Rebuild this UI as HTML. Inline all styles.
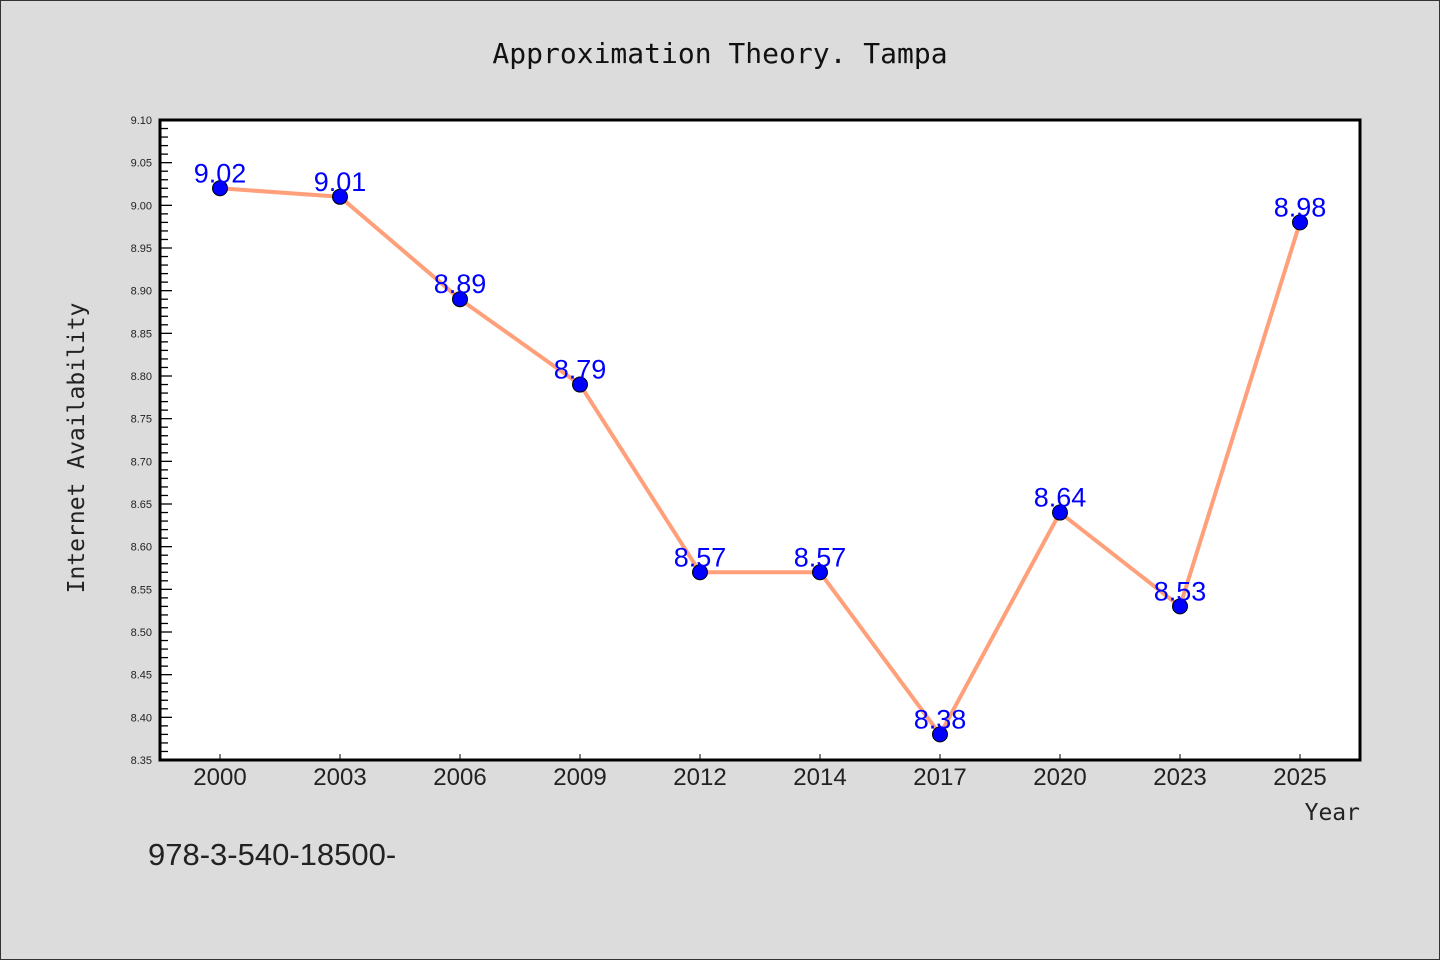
<!DOCTYPE html>
<html><head><meta charset="utf-8"><style>
html,body{margin:0;padding:0;background:#dcdcdc;}
svg{display:block;}
</style></head><body>
<svg id="chart" width="1440" height="960" xmlns="http://www.w3.org/2000/svg">
<rect x="0.5" y="0.5" width="1439" height="959" fill="#dcdcdc" stroke="#333" stroke-width="1"/>
<text x="720" y="63" text-anchor="middle" font-family="'DejaVu Sans Mono','Liberation Mono',monospace" font-size="28" fill="#111">Approximation Theory. Tampa</text>
<rect x="160" y="120" width="1200" height="640" fill="#fff"/>
<g id="yticks"></g><g id="xticks"></g>
<rect x="160" y="120" width="1200" height="640" fill="none" stroke="#000" stroke-width="3"/>
<g id="series"></g>
<text transform="translate(84,448) rotate(-90)" text-anchor="middle" font-family="'DejaVu Sans Mono','Liberation Mono',monospace" font-size="23" fill="#222">Internet Availability</text>
<text x="1360" y="820" text-anchor="end" font-family="'DejaVu Sans Mono','Liberation Mono',monospace" font-size="23" fill="#222">Year</text>
<text x="148" y="865" font-family="'Liberation Sans',sans-serif" font-size="31" fill="#222">978-3-540-18500-</text>
</svg>
<script>
const categories = ["2000","2003","2006","2009","2012","2014","2017","2020","2023","2025"];
const values = [9.02,9.01,8.89,8.79,8.57,8.57,8.38,8.64,8.53,8.98];
const yTickLabels = ["8.35","8.40","8.45","8.50","8.55","8.60","8.65","8.70","8.75","8.80","8.85","8.90","8.95","9.00","9.05","9.10"];
const yMin = 8.35, yMax = 9.10;
const NS = "http://www.w3.org/2000/svg";
const L=160,R=1360,T=120,B=760;
const band=(R-L)/categories.length;
function xScale(i){return L+band*(i+0.5);}
function yScale(v){return B-(v-yMin)/(yMax-yMin)*(B-T);}
function mk(tag,attrs,parent){const e=document.createElementNS(NS,tag);for(const k in attrs)e.setAttribute(k,attrs[k]);parent.appendChild(e);return e;}
const yt=document.getElementById('yticks');
for(let v=0;v<=75;v++){
  const val=yMin+v*0.01;const y=yScale(val);const major=v%5===0;
  const t=mk('line',{x1:L,x2:L+(major?12:8),y1:y,y2:y,stroke:'#000','stroke-width':1.3},yt);
  
  
}
yTickLabels.forEach(s=>{
  const tx=mk('text',{x:L-8,y:yScale(parseFloat(s))+4,'text-anchor':'end','font-family':"'Liberation Sans',sans-serif",'font-size':11,fill:'#222'},yt);
  tx.textContent=s;
  
  
});
const xt=document.getElementById('xticks');
categories.forEach((c,i)=>{
  const x=xScale(i);
  const t=mk('line',{x1:x,x2:x,y1:B,y2:B-6,stroke:'#000','stroke-width':1},xt);
  
  
  const tx=mk('text',{x:x,y:B+25,'text-anchor':'middle','font-family':"'Liberation Sans',sans-serif",'font-size':24,fill:'#222'},xt);
  tx.textContent=c;
  
  
});
const sg=document.getElementById('series');
const pl=mk('polyline',{points:values.map((v,i)=>xScale(i)+','+yScale(v)).join(' '),fill:'none',stroke:'#ffa07a','stroke-width':4,'stroke-linejoin':'round'},sg);


values.forEach((v,i)=>{
  const c=mk('circle',{cx:xScale(i),cy:yScale(v),r:7.5,fill:'#0000ff',stroke:'#000','stroke-width':1},sg);
  
  
  const tx=mk('text',{x:xScale(i),y:yScale(v)-6,'text-anchor':'middle','font-family':"'Liberation Sans',sans-serif",'font-size':27,fill:'#0000ff'},sg);
  tx.textContent=v.toFixed(2);
  
  
});
</script>
</body></html>
